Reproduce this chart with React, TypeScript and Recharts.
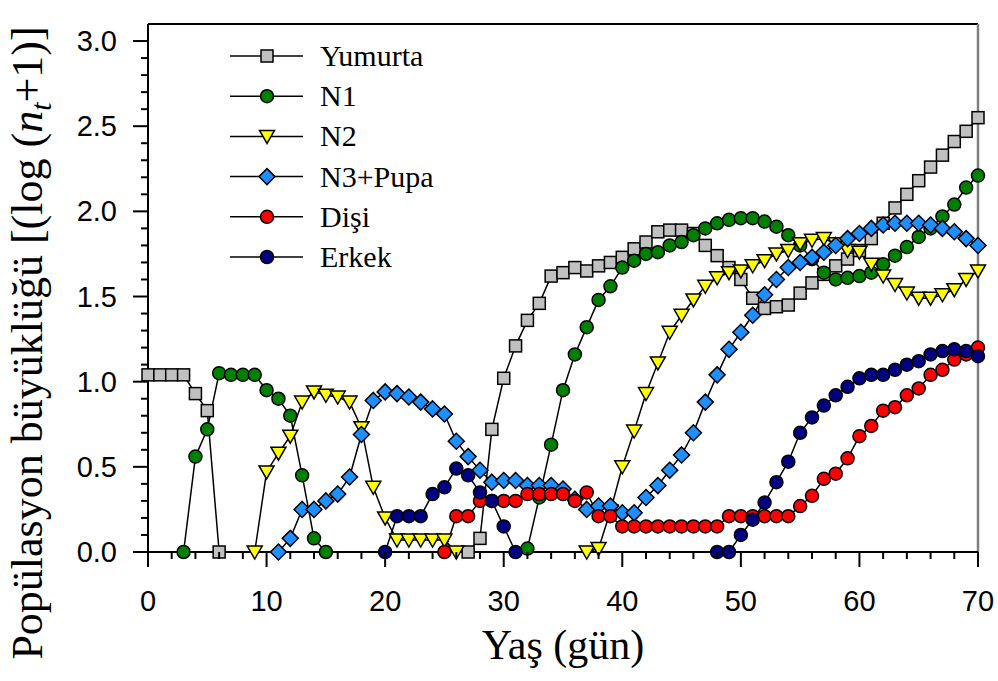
import { LineChart, Line, XAxis, YAxis, ReferenceLine, Legend } from "recharts";

// Age in days
const days = [
  0, 1, 2, 3, 4, 5, 6, 7, 8, 9, 10, 11, 12, 13, 14, 15, 16, 17, 18, 19, 20,
  21, 22, 23, 24, 25, 26, 27, 28, 29, 30, 31, 32, 33, 34, 35, 36, 37, 38, 39, 40,
  41, 42, 43, 44, 45, 46, 47, 48, 49, 50, 51, 52, 53, 54, 55, 56, 57, 58, 59, 60,
  61, 62, 63, 64, 65, 66, 67, 68, 69, 70,
];

// log(n+1) per stage, one value per day (null = stage absent)
const yumurta = [
  1.04, 1.04, 1.04, 1.04, 0.93, 0.83, 0, null, null, null, null,
  null, null, null, null, null, null, null, null, null, null,
  null, null, null, null, null, null, 0, 0.08, 0.72, 1.02,
  1.21, 1.36, 1.46, 1.62, 1.64, 1.67, 1.65, 1.68, 1.7, 1.73,
  1.78, 1.82, 1.88, 1.89, 1.89, 1.87, 1.8, 1.74, 1.67, 1.6,
  1.49, 1.43, 1.44, 1.45, 1.52, 1.58, 1.63, 1.68, 1.72, 1.77,
  1.84, 1.93, 2.02, 2.1, 2.18, 2.26, 2.33, 2.41, 2.47, 2.55,
];

const n1 = [
  null, null, null, 0, 0.56, 0.72, 1.05, 1.04, 1.04, 1.04, 0.95,
  0.9, 0.8, 0.45, 0.08, 0, null, null, null, null, null,
  null, null, null, null, null, null, null, null, null, null,
  null, 0.02, 0.32, 0.63, 0.95, 1.16, 1.32, 1.48, 1.56, 1.67,
  1.71, 1.75, 1.76, 1.8, 1.82, 1.86, 1.9, 1.93, 1.95, 1.96,
  1.96, 1.94, 1.91, 1.86, 1.8, 1.72, 1.64, 1.6, 1.61, 1.62,
  1.64, 1.69, 1.74, 1.79, 1.85, 1.9, 1.97, 2.04, 2.14, 2.21,
];

const n2 = [
  null, null, null, null, null, null, null, null, null, 0, 0.47,
  0.58, 0.68, 0.88, 0.94, 0.92, 0.91, 0.88, 0.73, 0.38, 0.2,
  0.07, 0.07, 0.07, 0.07, 0.07, 0, null, null, null, null,
  null, null, null, null, null, null, 0, 0.02, 0.24, 0.5,
  0.71, 0.93, 1.11, 1.29, 1.39, 1.48, 1.56, 1.61, 1.64, 1.65,
  1.68, 1.71, 1.75, 1.77, 1.81, 1.83, 1.84, 1.81, 1.77, 1.76,
  1.69, 1.62, 1.57, 1.52, 1.49, 1.49, 1.51, 1.54, 1.6, 1.65,
];

const n3Pupa = [
  null, null, null, null, null, null, null, null, null, null, null,
  0, 0.08, 0.25, 0.25, 0.3, 0.34, 0.44, 0.69, 0.89, 0.94,
  0.93, 0.91, 0.88, 0.84, 0.81, 0.65, 0.56, 0.48, 0.41, 0.42,
  0.42, 0.39, 0.39, 0.39, 0.37, 0.31, 0.25, 0.27, 0.27, 0.23,
  0.23, 0.32, 0.39, 0.48, 0.57, 0.7, 0.88, 1.04, 1.19, 1.29,
  1.39, 1.51, 1.6, 1.67, 1.7, 1.73, 1.76, 1.8, 1.84, 1.87,
  1.9, 1.92, 1.93, 1.93, 1.93, 1.92, 1.9, 1.88, 1.84, 1.8,
];

const disi = [
  null, null, null, null, null, null, null, null, null, null, null,
  null, null, null, null, null, null, null, null, null, null,
  null, null, null, null, 0, 0.21, 0.21, 0.3, 0.3, 0.3,
  0.3, 0.34, 0.34, 0.34, 0.34, 0.3, 0.35, 0.21, 0.21, 0.15,
  0.15, 0.15, 0.15, 0.15, 0.15, 0.15, 0.15, 0.15, 0.21, 0.21,
  0.21, 0.21, 0.21, 0.21, 0.27, 0.33, 0.43, 0.46, 0.55, 0.68,
  0.74, 0.83, 0.85, 0.92, 0.96, 1.04, 1.07, 1.13, 1.16, 1.2,
];

const erkek = [
  null, null, null, null, null, null, null, null, null, null, null,
  null, null, null, null, null, null, null, null, null, 0,
  0.21, 0.21, 0.21, 0.34, 0.38, 0.49, 0.45, 0.35, 0.3, 0.15,
  0, null, null, null, null, null, null, null, null, null,
  null, null, null, null, null, null, null, 0, 0, 0.1,
  0.19, 0.29, 0.41, 0.53, 0.7, 0.79, 0.86, 0.92, 0.97, 1.02,
  1.04, 1.04, 1.07, 1.1, 1.12, 1.16, 1.18, 1.19, 1.18, 1.15,
];

const xTicks = [
  0, 2, 4, 6, 8, 10, 12, 14, 16, 18, 20, 22, 24, 26, 28, 30, 32, 34, 36,
  38, 40, 42, 44, 46, 48, 50, 52, 54, 56, 58, 60, 62, 64, 66, 68, 70,
];
const yTicks = [
  0, 0.1, 0.2, 0.3, 0.4, 0.5, 0.6, 0.7, 0.8, 0.9, 1.0, 1.1, 1.2, 1.3, 1.4, 1.5,
  1.6, 1.7, 1.8, 1.9, 2.0, 2.1, 2.2, 2.3, 2.4, 2.5, 2.6, 2.7, 2.8, 2.9, 3.0,
];

type Shape = "square" | "circle" | "triangle" | "diamond";

const series: { key: string; name: string; shape: Shape; fill: string; values: (number | null)[] }[] = [
  { key: "yumurta", name: "Yumurta", shape: "square", fill: "#c0c0c0", values: yumurta },
  { key: "n1", name: "N1", shape: "circle", fill: "#008000", values: n1 },
  { key: "n2", name: "N2", shape: "triangle", fill: "#ffff00", values: n2 },
  { key: "n3", name: "N3+Pupa", shape: "diamond", fill: "#1e8fff", values: n3Pupa },
  { key: "disi", name: "Dişi", shape: "circle", fill: "#ff0000", values: disi },
  { key: "erkek", name: "Erkek", shape: "circle", fill: "#000080", values: erkek },
];

const data = days.map((day, i) => {
  const row: Record<string, number | null> = { day };
  series.forEach((s) => {
    row[s.key] = s.values[i];
  });
  return row;
});

const SANS = "'Liberation Sans', Arial, sans-serif";
const SERIF = "'Liberation Serif', 'Times New Roman', serif";

function Marker({ shape, fill, cx, cy }: { shape: Shape; fill: string; cx: number; cy: number }) {
  const style = { fill, stroke: "#000", strokeWidth: 1.5 };
  if (shape === "square") return <rect x={cx - 6} y={cy - 6} width={12} height={12} {...style} />;
  if (shape === "triangle")
    return <path d={`M${cx - 7.5},${cy - 6}L${cx + 7.5},${cy - 6}L${cx},${cy + 7}Z`} {...style} />;
  if (shape === "diamond")
    return <path d={`M${cx},${cy - 8}L${cx + 8},${cy}L${cx},${cy + 8}L${cx - 8},${cy}Z`} {...style} />;
  return <circle cx={cx} cy={cy} r={6.5} {...style} />;
}

function XTick(props: any) {
  const { x, y, payload } = props;
  const major = payload.value % 10 === 0;
  return (
    <g>
      <line x1={x} x2={x} y1={y} y2={y + (major ? 15 : 7)} stroke="#000" strokeWidth={2} />
      {major && (
        <text x={x} y={y + 59} textAnchor="middle" fontFamily={SANS} fontSize={29} fill="#000">
          {payload.value}
        </text>
      )}
    </g>
  );
}

function YTick(props: any) {
  const { x, y, payload } = props;
  const major = Math.round(payload.value * 10) % 5 === 0;
  return (
    <g>
      <line x1={x - (major ? 15 : 7)} x2={x} y1={y} y2={y} stroke="#000" strokeWidth={2} />
      {major && (
        <text x={x - 31} y={y + 10} textAnchor="end" fontFamily={SANS} fontSize={29} fill="#000">
          {payload.value.toFixed(1)}
        </text>
      )}
    </g>
  );
}

function XTitle() {
  return (
    <text x={563} y={659} textAnchor="middle" fontFamily={SERIF} fontSize={42} fill="#000">
      Yaş (gün)
    </text>
  );
}

function YTitle() {
  return (
    <text
      x={42}
      y={343}
      transform="rotate(-90, 42, 343)"
      textAnchor="middle"
      fontFamily={SERIF}
      fontSize={44}
      fill="#000"
    >
      Popülasyon büyüklüğü [(log (<tspan fontStyle="italic">n</tspan>
      <tspan fontStyle="italic" fontSize={30} dy={9}>t</tspan>
      <tspan dy={-9}>+1)]</tspan>
    </text>
  );
}

function LegendBox() {
  return (
    <svg width={260} height={240}>
      {series.map((s, i) => {
        const y = 20 + i * 40.2;
        return (
          <g key={s.key}>
            <line x1={8} x2={81} y1={y} y2={y} stroke="#000" strokeWidth={1.5} />
            <Marker shape={s.shape} fill={s.fill} cx={45} cy={y} />
            <text x={98} y={y + 10} fontFamily={SERIF} fontSize={30} fill="#000">
              {s.name}
            </text>
          </g>
        );
      })}
    </svg>
  );
}

export default function App() {
  return (
    <div style={{ position: "absolute", left: 0, top: 0, background: "#fff" }}>
      <LineChart width={998} height={681} data={data} margin={{ top: 24, right: 20, left: 0, bottom: 0 }}>
        <XAxis
          dataKey="day"
          type="number"
          domain={[0, 70]}
          ticks={xTicks}
          interval={0}
          tick={<XTick />}
          tickLine={false}
          tickSize={0}
          tickMargin={0}
          height={129}
          axisLine={{ stroke: "#000", strokeWidth: 2 }}
          label={<XTitle />}
        />
        <YAxis
          type="number"
          domain={[0, 3.1]}
          ticks={yTicks}
          interval={0}
          tick={<YTick />}
          tickLine={false}
          tickSize={0}
          tickMargin={0}
          width={148}
          axisLine={{ stroke: "#000", strokeWidth: 2 }}
          label={<YTitle />}
        />
        <ReferenceLine y={3.1} stroke="#000" strokeWidth={2} />
        <ReferenceLine x={70} stroke="#808080" strokeWidth={2.5} />
        <Legend
          layout="horizontal"
          verticalAlign="middle"
          align="center"
          wrapperStyle={{ left: 222, top: 36, width: 260, height: 240 }}
          content={() => <LegendBox />}
        />
        {series.map((s) => (
          <Line
            key={s.key}
            dataKey={s.key}
            name={s.name}
            stroke="#000"
            strokeWidth={1.5}
            isAnimationActive={false}
            activeDot={false}
            dot={(p: any) =>
              p.value == null || p.cy == null ? (
                <g key={`${s.key}-${p.index}`} />
              ) : (
                <g key={`${s.key}-${p.index}`}>
                  <Marker shape={s.shape} fill={s.fill} cx={p.cx} cy={p.cy} />
                </g>
              )
            }
          />
        ))}
      </LineChart>
    </div>
  );
}
